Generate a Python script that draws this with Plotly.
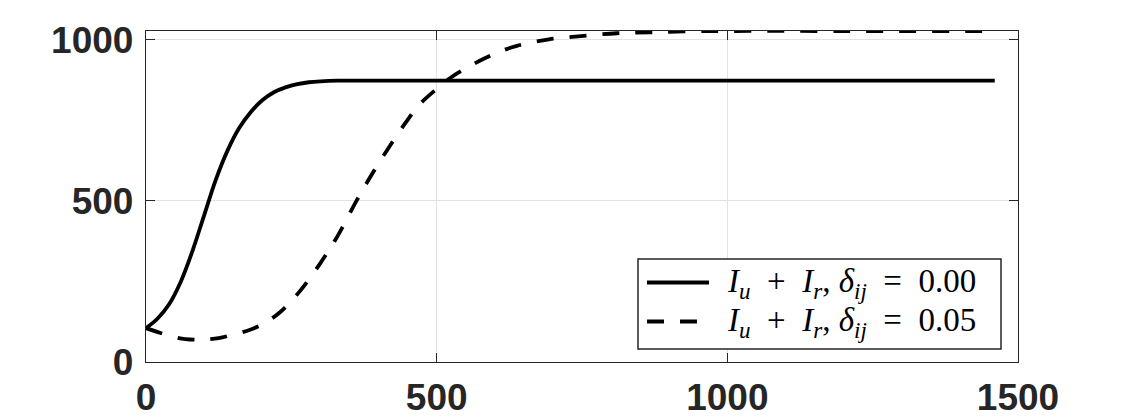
import plotly.graph_objects as go

# ---- data ----
t_solid = [0, 20, 40, 60, 80, 100, 120, 140, 160, 180, 200, 220, 240, 260, 280, 300, 330,
           400, 600, 800, 1000, 1200, 1460]
v_solid = [105, 135, 180, 250, 345, 455, 565, 655, 725, 775, 812, 837, 852, 862, 868, 871, 873,
           873, 873, 873, 873, 873, 873]

t_dashed = [0, 25, 50, 68, 88, 105, 125, 150, 179, 205, 231, 263, 300, 329, 362, 386, 415, 446, 470,
            499, 524, 550, 581, 610, 638, 693, 753, 810, 867, 930, 1000, 1200, 1460]
v_dashed = [105, 90, 77, 71, 69, 70, 74, 85, 100, 122, 155, 216, 307, 389, 500, 575, 658, 741, 798,
            846, 882, 911, 941, 964, 981, 1001, 1012, 1020, 1023, 1026, 1027, 1027, 1027]

series_names = ["I_u + I_r, delta_ij = 0.00", "I_u + I_r, delta_ij = 0.05"]
NB = "\u00a0"
legend_labels = [
    f"<i>I</i><sub><i>u</i></sub>{NB}{NB}+{NB}{NB}<i>I</i><sub><i>r</i></sub>,{NB}<i>δ</i><sub><i>ij</i></sub>{NB}{NB}={NB}{NB}0.00",
    f"<i>I</i><sub><i>u</i></sub>{NB}{NB}+{NB}{NB}<i>I</i><sub><i>r</i></sub>,{NB}<i>δ</i><sub><i>ij</i></sub>{NB}{NB}={NB}{NB}0.05",
]
x_ticks = [0, 500, 1000, 1500]
y_ticks = [0, 500, 1000]

# ---- layout geometry ----
FW, FH = 1125, 417
ML, MR, MT, MB = 146, 107, 31, 55
PW, PH = FW - ML - MR, FH - MT - MB

def px_x(x):
    return (x - ML) / PW

def px_y(y):
    return (FH - MB - y) / PH

AX = "#262626"
DASH = "17px,16px"
LW = 3.8

fig = go.Figure()
fig.add_trace(go.Scatter(x=t_solid, y=v_solid, mode="lines", name=series_names[0],
                         line=dict(color="black", width=LW, shape="spline", smoothing=1.0),
                         showlegend=False))
fig.add_trace(go.Scatter(x=t_dashed, y=v_dashed, mode="lines", name=series_names[1],
                         line=dict(color="black", width=LW, dash=DASH, shape="spline", smoothing=1.0),
                         showlegend=False))

shapes = [
    dict(type="rect", xref="paper", yref="paper", x0=px_x(638), x1=px_x(1001), y0=px_y(349), y1=px_y(259),
         line=dict(color=AX, width=1.5), fillcolor="white", layer="above"),
    dict(type="line", xref="paper", yref="paper", x0=px_x(647), x1=px_x(709), y0=px_y(282.5), y1=px_y(282.5),
         line=dict(color="black", width=LW), layer="above"),
    dict(type="line", xref="paper", yref="paper", x0=px_x(647), x1=px_x(709), y0=px_y(321.5), y1=px_y(321.5),
         line=dict(color="black", width=LW, dash=DASH), layer="above"),
]
annotations = [
    dict(xref="paper", yref="paper", x=px_x(725), y=px_y(yy), text=lab, showarrow=False,
         xanchor="left", yanchor="middle",
         font=dict(family="Liberation Serif", size=33, color="black"))
    for lab, yy in zip(legend_labels, [283, 322])
]

axis_common = dict(
    showline=True, linecolor=AX, linewidth=1.4, mirror="ticks",
    ticks="inside", ticklen=9, tickwidth=1.4, tickcolor=AX,
    showgrid=True, gridcolor="#e2e2e2", gridwidth=1, zeroline=False,
    automargin=False,
    tickfont=dict(family="Liberation Sans", size=37, color=AX, weight="bold"),
)

fig.update_layout(
    width=FW, height=FH,
    margin=dict(l=ML, r=MR, t=MT, b=MB, pad=0),
    paper_bgcolor="white", plot_bgcolor="white",
    xaxis=dict(range=[0, 1500], tickvals=x_ticks, ticklabelstandoff=2, **axis_common),
    yaxis=dict(range=[0, 1027], tickvals=y_ticks, ticklabelstandoff=4, **axis_common),
    shapes=shapes, annotations=annotations,
)

fig.write_html("out.html")
